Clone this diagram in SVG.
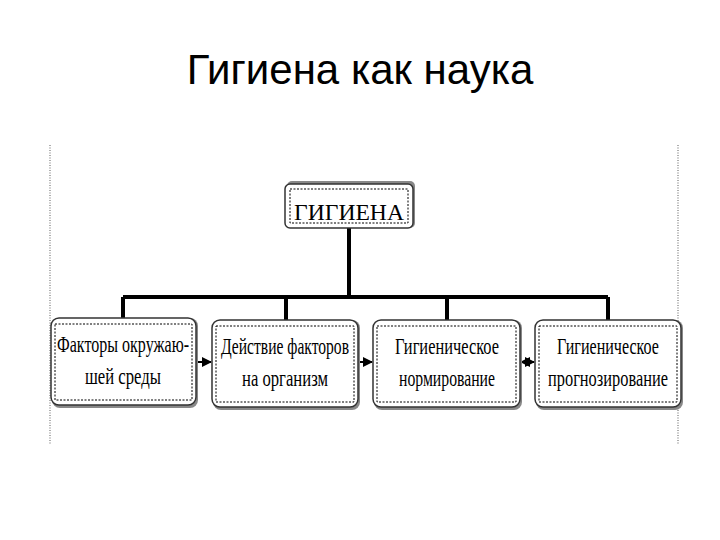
<svg xmlns="http://www.w3.org/2000/svg" width="720" height="540" viewBox="0 0 720 540">
<style>
.t{font-family:"Liberation Sans",Arial,sans-serif;font-size:42px;fill:#000}
.n{font-family:"Liberation Serif","Times New Roman",serif;font-size:23px;fill:#000}
.box{fill:#fff;stroke:#333;stroke-width:1.5}
.shadow{fill:#888}
.in{fill:none;stroke:#000;stroke-width:1;stroke-dasharray:2,1.5}
.frame{stroke:#777;stroke-width:1.2;stroke-dasharray:1,1.5}
.c{stroke:#000;stroke-width:4;fill:none}
.a{stroke:#000;stroke-width:2;fill:none}
</style>
<defs>
<marker id="ah" viewBox="0 0 10 10" refX="9" refY="5" markerWidth="5" markerHeight="5" orient="auto-start-reverse"><path d="M0,0L10,5L0,10z" fill="#000"/></marker>
</defs>
<rect width="720" height="540" fill="#fff"/>
<text class="t" x="360" y="84" text-anchor="middle">Гигиена как наука</text>
<line class="frame" x1="50" y1="145" x2="50" y2="445"/>
<line class="frame" x1="678" y1="145" x2="678" y2="445"/>
<g id="connectors">
<path class="c" d="M349,228V297M123,297H608M123,297V318M286,297V320M447,297V320M608,297V320"/>
<line class="a" x1="196" y1="362" x2="211" y2="362" marker-end="url(#ah)"/>
<line class="a" x1="358" y1="362" x2="372" y2="362" marker-end="url(#ah)"/>
<line class="a" x1="521" y1="362" x2="534" y2="362" marker-start="url(#ah)" marker-end="url(#ah)"/>
</g>
<g id="n0">
<rect class="shadow" x="287" y="181" width="128" height="47" rx="5"/>
<rect class="box" x="285" y="184" width="128" height="44" rx="5"/>
<rect class="in" x="290" y="189" width="118" height="34"/>
<text class="n" x="349" y="220" text-anchor="middle" font-size="30" textLength="110" lengthAdjust="spacingAndGlyphs">ГИГИЕНА</text>
</g>
<g id="n1">
<rect class="shadow" x="52" y="318" width="146" height="90" rx="8"/>
<rect class="box" x="51" y="318" width="145" height="87" rx="8"/>
<rect class="in" x="55" y="324" width="137" height="76"/>
<text class="n" x="123" y="352" text-anchor="middle" textLength="132" lengthAdjust="spacingAndGlyphs">Факторы окружаю-</text>
<text class="n" x="123" y="384" text-anchor="middle" textLength="76" lengthAdjust="spacingAndGlyphs">шей среды</text>
</g>
<g id="n2">
<rect class="shadow" x="213" y="320" width="147" height="90" rx="8"/>
<rect class="box" x="212" y="320" width="146" height="87" rx="8"/>
<rect class="in" x="216" y="326" width="138" height="76"/>
<text class="n" x="285" y="354" text-anchor="middle" textLength="128" lengthAdjust="spacingAndGlyphs">Действие факторов</text>
<text class="n" x="285" y="386" text-anchor="middle" textLength="86" lengthAdjust="spacingAndGlyphs">на организм</text>
</g>
<g id="n3">
<rect class="shadow" x="374" y="320" width="148" height="90" rx="8"/>
<rect class="box" x="373" y="320" width="147" height="87" rx="8"/>
<rect class="in" x="377" y="326" width="139" height="76"/>
<text class="n" x="447" y="354" text-anchor="middle" textLength="104" lengthAdjust="spacingAndGlyphs">Гигиеническое</text>
<text class="n" x="447" y="386" text-anchor="middle" textLength="96" lengthAdjust="spacingAndGlyphs">нормирование</text>
</g>
<g id="n4">
<rect class="shadow" x="536" y="320" width="147" height="90" rx="8"/>
<rect class="box" x="535" y="320" width="146" height="87" rx="8"/>
<rect class="in" x="539" y="326" width="138" height="76"/>
<text class="n" x="608" y="354" text-anchor="middle" textLength="102" lengthAdjust="spacingAndGlyphs">Гигиеническое</text>
<text class="n" x="608" y="386" text-anchor="middle" textLength="120" lengthAdjust="spacingAndGlyphs">прогнозирование</text>
</g>
</svg>
